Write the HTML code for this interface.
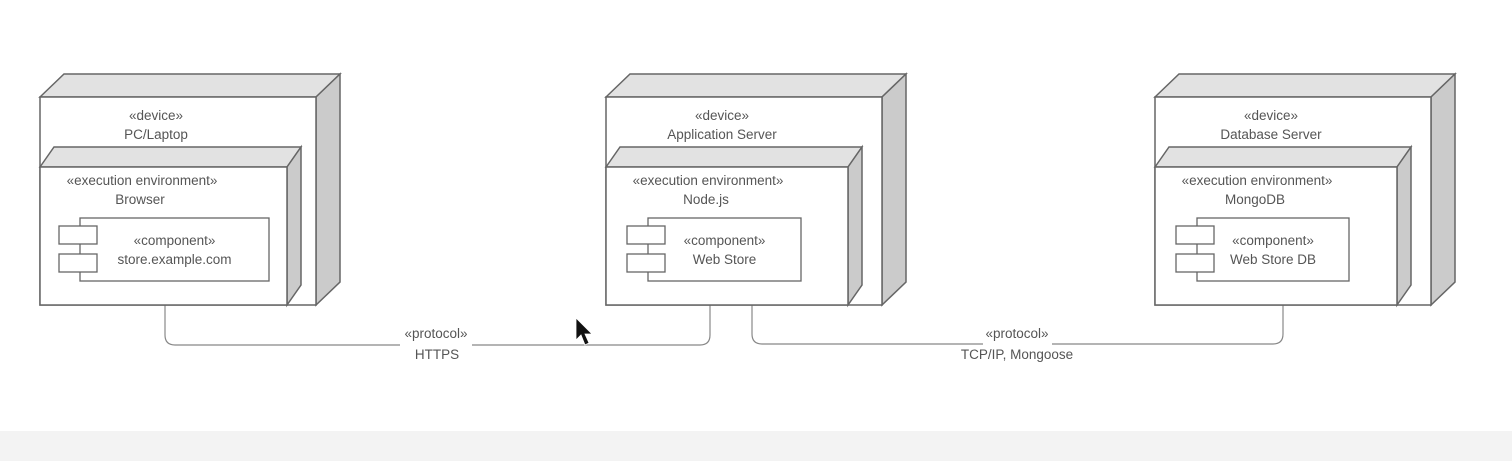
<!DOCTYPE html>
<html><head><meta charset="utf-8"><style>
html,body{margin:0;padding:0;background:#fff}
svg{display:block}
text{font-family:"Liberation Sans",sans-serif;font-size:13.5px;fill:#555}
</style></head><body>
<svg id="d" width="1512" height="461" viewBox="0 0 1512 461" xmlns="http://www.w3.org/2000/svg">
<rect x="0" y="431" width="1512" height="30" fill="#f3f3f3"/>
<g id="links" fill="none" stroke="#888" stroke-width="1.2">
<path d="M165 305 V335 Q165 345 175 345 H400 M472 345 H700 Q710 345 710 335 V305"/>
<path d="M752 305 V334 Q752 344 762 344 H983 M1052 344 H1273 Q1283 344 1283 334 V305"/>
</g>
<text x="436" y="338" text-anchor="middle" font-size="12.5">«protocol»</text>
<text x="437" y="359" text-anchor="middle">HTTPS</text>
<text x="1017" y="338" text-anchor="middle" font-size="12.5">«protocol»</text>
<text x="1017" y="359" text-anchor="middle">TCP/IP, Mongoose</text>
<path d="M576 318 L576 340 L581 335 L585 345 L589 343 L585 334 L592 334 Z" fill="#111" stroke="#fff" stroke-width="0.8"/>
</svg>
<script>
const nodeX = [40, 606, 1155];
const deviceNames = ["PC/Laptop", "Application Server", "Database Server"];
const envNames = ["Browser", "Node.js", "MongoDB"];
const compNames = ["store.example.com", "Web Store", "Web Store DB"];
const envW = [247, 242, 242];
const compW = [189, 153, 152];
const NS = "http://www.w3.org/2000/svg";
const svg = document.getElementById('d');
function el(tag, attrs, parent, txt){
  const e = document.createElementNS(NS, tag);
  for (const k in attrs) e.setAttribute(k, attrs[k]);
  if (txt !== undefined) e.textContent = txt;
  parent.appendChild(e);
  return e;
}
const S = "#666";
nodeX.forEach((x, i) => {
  const g = el('g', {}, svg);
  
  
  const w = 276, top = 97, bot = 305, d = 24, dy = 23;
  el('polygon', {points: `${x},${top} ${x+d},${top-dy} ${x+w+d},${top-dy} ${x+w},${top}`, fill:"#e2e2e2", stroke:S, 'stroke-width':1.5}, g);
  el('polygon', {points: `${x+w},${top} ${x+w+d},${top-dy} ${x+w+d},${bot-dy} ${x+w},${bot}`, fill:"#cbcbcb", stroke:S, 'stroke-width':1.5}, g);
  el('rect', {x:x, y:top, width:w, height:bot-top, fill:"#fff", stroke:S, 'stroke-width':1.5}, g);
  const cx = x + 116;
  const t1 = el('text', {x:cx, y:120, 'text-anchor':'middle', 'font-size':12.5}, g, '«device»');
  
  
  const t2 = el('text', {x:cx, y:139, 'text-anchor':'middle'}, g, deviceNames[i]);
  
  
  const eg = el('g', {}, g);
  
  
  const ew = envW[i], et = 167, ed = 14, edy = 20;
  el('polygon', {points: `${x},${et} ${x+ed},${et-edy} ${x+ew+ed},${et-edy} ${x+ew},${et}`, fill:"#e2e2e2", stroke:S, 'stroke-width':1.5}, eg);
  el('polygon', {points: `${x+ew},${et} ${x+ew+ed},${et-edy} ${x+ew+ed},${bot-edy} ${x+ew},${bot}`, fill:"#cbcbcb", stroke:S, 'stroke-width':1.5}, eg);
  el('rect', {x:x, y:et, width:ew, height:bot-et, fill:"#fff", stroke:S, 'stroke-width':1.5}, eg);
  const t3 = el('text', {x:x+102, y:185, 'text-anchor':'middle'}, eg, '«execution environment»');
  
  
  const t4 = el('text', {x:x+100, y:204, 'text-anchor':'middle'}, eg, envNames[i]);
  
  
  const cg = el('g', {}, eg);
  
  
  const cxl = x + (i===0?40:42), cw = compW[i];
  el('rect', {x:cxl, y:218, width:cw, height:63, fill:"#fff", stroke:S, 'stroke-width':1.3}, cg);
  el('rect', {x:cxl-21, y:226, width:38, height:18, fill:"#fff", stroke:S, 'stroke-width':1.3}, cg);
  el('rect', {x:cxl-21, y:254, width:38, height:18, fill:"#fff", stroke:S, 'stroke-width':1.3}, cg);
  const mid = cxl + cw/2;
  const t5 = el('text', {x:mid, y:245, 'text-anchor':'middle', 'font-size':13}, cg, '«component»');
  
  
  const t6 = el('text', {x:mid, y:264, 'text-anchor':'middle'}, cg, compNames[i]);
  
  
});
</script>
</body></html>
